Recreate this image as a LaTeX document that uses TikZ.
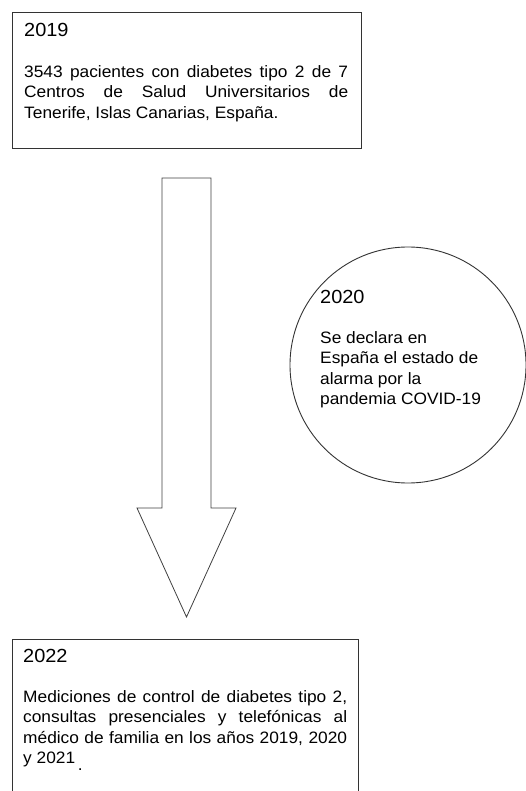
\documentclass[tikz,border=0pt]{standalone}
\usepackage{fontspec}
\setmainfont{Liberation Sans}[FakeStretch=1.05]
\usetikzlibrary{positioning}

\newcommand{\yearlabel}[1]{{\fontsize{19}{20.5}\selectfont #1}}

\begin{document}
\begin{tikzpicture}[
    x=1pt, y=-1pt,
    panel/.style={draw=black!80, line width=0.9pt, anchor=north west, inner sep=0pt},
    body/.style={anchor=north west, inner sep=0pt, text width=324pt, align=justify, text=black, font=\fontsize{16.5}{20.5}\selectfont},
    note/.style={anchor=north west, inner sep=0pt, align=left, text=black, font=\fontsize{16.5}{20.5}\selectfont},
    event/.style={draw=black!80, line width=0.9pt, circle, minimum size=236pt, inner sep=0pt},
    blockarrow/.style={draw=black!75, line width=0.8pt, fill=white}
]
    \useasboundingbox (0,0) rectangle (526,791);
    \clip (0,0) rectangle (526,791);

    % first year
    \node[panel, minimum width=349pt, minimum height=136pt] (box2019) at (12,12) {};
    \node[body] (text2019) at (24,23.5) {\yearlabel{2019}\\[20pt]
        3543 pacientes con diabetes tipo 2 de 7\linebreak
        Centros de Salud Universitarios de\linebreak
        Tenerife, Islas Canarias, España.};

    % time arrow
    \draw[blockarrow] (162,178) -- (211,178) -- (211,508) -- (236,508)
        -- (186.5,617) -- (137,508) -- (162,508) -- cycle;

    % pandemic
    \node[event] (circ2020) at (408,365) {};
    \node[note] (text2020) at (320,290) {\yearlabel{2020}\\[19.5pt]
        Se declara en\\
        España el estado de\\
        alarma por la\\
        pandemia COVID-19};

    % last year
    \node[panel, minimum width=346pt, minimum height=180pt] (box2022) at (12,639) {};
    \node[body] (text2022) at (23,649.5) {\yearlabel{2022}\\[19pt]
        Mediciones de control de diabetes tipo 2,\linebreak
        consultas presenciales y telefónicas al\linebreak
        médico de familia en los años 2019, 2020\linebreak
        y 2021\,\raisebox{-7pt}{.}};
\end{tikzpicture}
\end{document}
